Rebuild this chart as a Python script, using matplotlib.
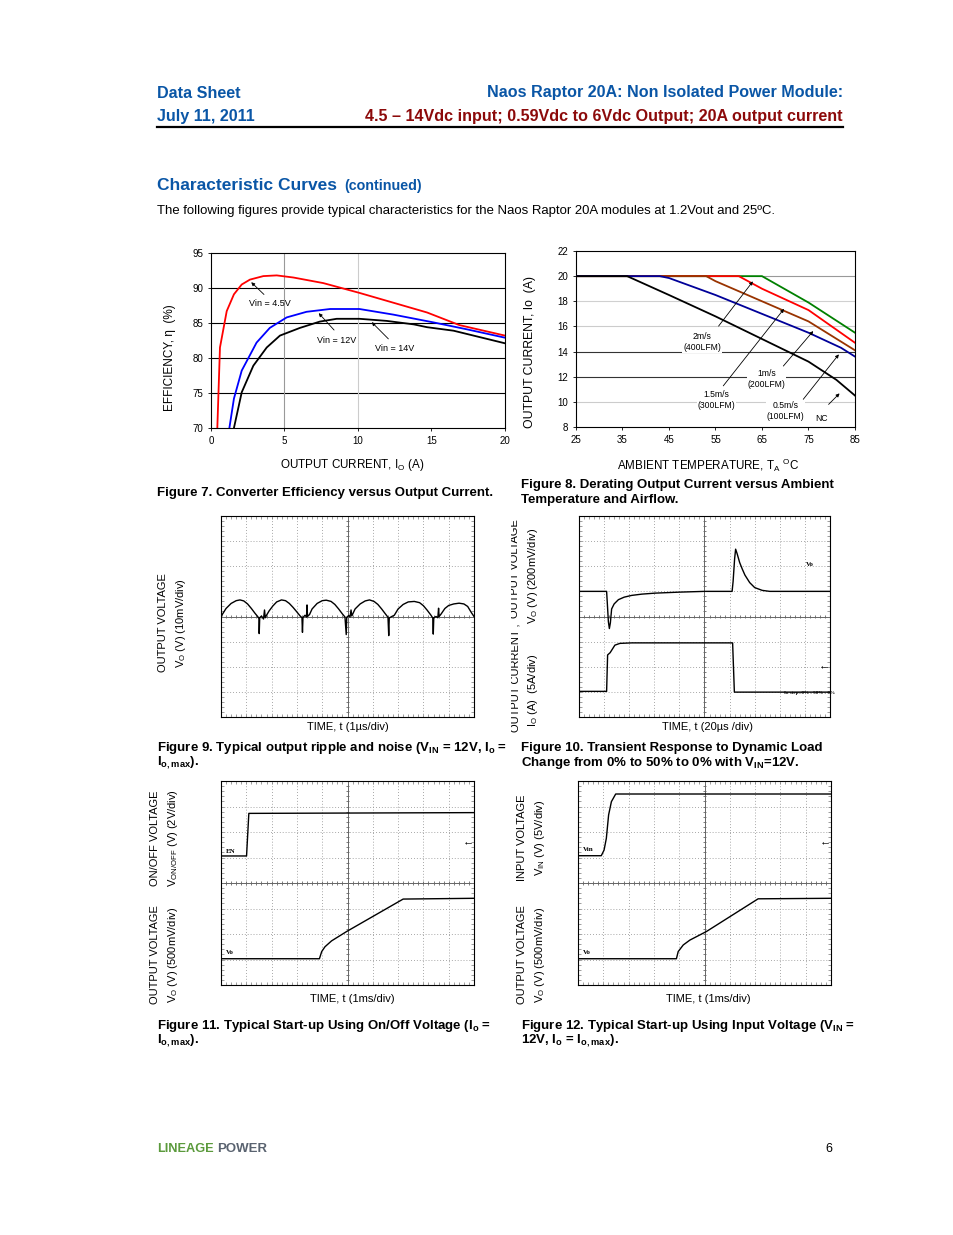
import numpy as np
import matplotlib
matplotlib.use("Agg")
import matplotlib.pyplot as plt
from matplotlib.lines import Line2D
from matplotlib.patches import Rectangle

plt.rcParams['font.family'] = ['Liberation Sans', 'DejaVu Sans']
plt.rcParams['mathtext.default'] = 'regular'

W, H = 954, 1235

# ---- Figure 7: efficiency vs output current ----
eff_io_45 = [0.43, 0.61, 1.07, 1.56, 2.09, 2.65, 3.56, 4.47, 5.6, 7.64, 10.1, 12.4, 14.7, 16.9, 20.0]
eff_45 = [70.0, 81.5, 86.7, 89.1, 90.5, 91.2, 91.7, 91.8, 91.5, 90.7, 89.3, 87.9, 86.5, 84.7, 83.2]
eff_io_12 = [1.25, 1.56, 2.09, 3.1, 4.0, 5.15, 6.5, 8.1, 10.1, 12.4, 15.1, 17.4, 20.0]
eff_12 = [70.0, 74.2, 78.2, 82.2, 84.3, 85.8, 86.6, 87.0, 87.0, 86.2, 85.1, 84.1, 82.9]
eff_io_14 = [1.56, 2.09, 2.88, 3.79, 4.69, 6.05, 7.4, 8.55, 10.1, 11.95, 13.8, 14.7, 16.5, 20.0]
eff_14 = [70.0, 75.1, 78.9, 81.5, 83.2, 84.3, 85.2, 85.6, 85.6, 85.3, 84.8, 84.4, 83.9, 82.1]

# ---- Figure 8: derating ----
ta_2ms = [25, 65, 75, 80, 85]
io_2ms = [20, 20, 17.9, 16.7, 15.5]
ta_15ms = [25, 60, 65, 75, 85]
io_15ms = [20, 20, 19.0, 17.3, 14.7]
ta_1ms = [25, 53, 55, 65, 75, 85]
io_1ms = [20, 20, 19.6, 18.0, 16.4, 14.1]
ta_05ms = [25, 43, 45, 55, 65, 75, 82, 85]
io_05ms = [20, 20, 19.85, 18.5, 17.0, 15.5, 14.3, 13.6]
ta_nc = [25, 36, 45, 55, 65, 75, 81, 85]
io_nc = [20, 20, 18.5, 16.8, 15.0, 13.2, 11.75, 10.5]

# ---- Figure 9: ripple (divisions) ----
rip_t = [0.0, 0.05, 0.2, 0.4, 0.6, 0.75, 0.9, 1.05, 1.2, 1.35, 1.45, 1.5, 1.51, 1.53, 1.6, 1.68, 1.72, 1.75, 1.8,
         1.9, 2.05, 2.2, 2.39, 2.55, 2.7, 2.85, 3.0, 3.12, 3.2, 3.22, 3.24, 3.32, 3.38, 3.4, 3.42, 3.5,
         3.6, 3.8, 4.0, 4.16, 4.35, 4.5, 4.65, 4.8, 4.9, 4.95, 4.97, 5.05, 5.1, 5.14, 5.17,
         5.3, 5.5, 5.7, 5.87, 6.05, 6.2, 6.35, 6.5, 6.6, 6.63, 6.65, 6.75, 6.85,
         7.0, 7.2, 7.4, 7.64, 7.85, 8.0, 8.15, 8.3, 8.37, 8.39, 8.41, 8.5, 8.57, 8.6, 8.62, 8.7,
         8.85, 9.0, 9.2, 9.41, 9.6, 9.75, 9.9, 10.0]
rip_v = [-0.06, 0.08, 0.32, 0.52, 0.63, 0.66, 0.62, 0.5, 0.32, 0.12, 0.0, -0.08, -0.68, -0.05, 0.02, -0.1, 0.26, -0.05, 0.05,
         0.22, 0.42, 0.58, 0.66, 0.63, 0.52, 0.36, 0.18, 0.03, -0.05, -0.63, -0.04, 0.05, -0.02, 0.46, 0.0, 0.08,
         0.3, 0.52, 0.63, 0.65, 0.6, 0.48, 0.3, 0.1, -0.02, -0.72, -0.03, 0.04, -0.02, 0.26, 0.02,
         0.3, 0.5, 0.62, 0.66, 0.6, 0.48, 0.3, 0.1, -0.03, -0.76, -0.06, 0.0, 0.05,
         0.3, 0.48, 0.58, 0.6, 0.55, 0.43, 0.25, 0.05, -0.06, -0.7, -0.05, 0.0, -0.05, 0.33, 0.0, 0.1,
         0.32, 0.44, 0.5, 0.53, 0.5, 0.4, 0.15, 0.0]

# ---- Figure 10: load transient (divisions) ----
tr_vo_t = [0, 1.1, 1.13, 1.17, 1.21, 1.25, 1.3, 1.4, 1.57, 1.8, 2.1, 2.5, 3.03, 4.0, 5.0,
           6.1, 6.14, 6.2, 6.24, 6.3, 6.4, 6.5, 6.61, 6.8, 7.0, 7.3, 7.6, 10]
tr_vo = [5.0, 5.0, 4.5, 3.8, 3.52, 3.75, 4.3, 4.5, 4.67, 4.77, 4.84, 4.89, 4.93, 4.97, 5.0,
         5.0, 5.4, 6.3, 6.68, 6.5, 6.15, 5.9, 5.65, 5.35, 5.15, 5.04, 5.0, 5.0]
tr_io_t = [0, 1.1, 1.14, 1.24, 1.43, 1.63, 2.1, 6.12, 6.19, 10]
tr_io = [1.02, 1.02, 2.47, 2.56, 2.86, 2.93, 2.95, 2.95, 0.99, 0.99]

# ---- Figure 11: start-up with on/off (divisions) ----
en_t = [0, 1.01, 1.1, 10]
en_v = [5.06, 5.06, 6.73, 6.76]
su1_t = [0, 3.89, 3.98, 4.11, 4.37, 4.97, 7.2, 10]
su1_v = [1.03, 1.03, 1.31, 1.5, 1.73, 2.1, 3.37, 3.4]

# ---- Figure 12: start-up with input voltage (divisions) ----
vin_t = [0, 0.92, 1.03, 1.12, 1.21, 1.32, 1.49, 10]
vin_v = [5.07, 5.07, 5.29, 5.75, 6.67, 7.19, 7.49, 7.49]
su2_t = [0, 3.89, 3.96, 4.16, 4.42, 5.08, 7.12, 10]
su2_v = [1.03, 1.03, 1.31, 1.57, 1.76, 2.1, 3.38, 3.4]

BLUE = '#0a56a6'
DRED = '#8c0a0a'

fig = plt.figure(figsize=(W / 100, H / 100), dpi=100)


def ptxt(x, y, s, **kw):
    kw.setdefault('va', 'center')
    return fig.text(x / W, 1 - y / H, s, **kw)


def add_ax(x0, y0, x1, y1):
    return fig.add_axes([x0 / W, 1 - y1 / H, (x1 - x0) / W, (y1 - y0) / H])


def scope(ax):
    ax.set_xlim(0, 10)
    ax.set_ylim(0, 8)
    for i in range(1, 10):
        ax.axvline(i, color='#8a8a8a', lw=0.6, ls=(0, (1, 2.5)), zorder=1)
    for j in range(1, 8):
        ax.axhline(j, color='#8a8a8a', lw=0.6, ls=(0, (1, 2.5)), zorder=1)
    ax.axvline(5, color='#666666', lw=0.7, zorder=1)
    ax.axhline(4, color='#666666', lw=0.7, zorder=1)
    ax.vlines(np.arange(0, 10.01, 0.2), 3.93, 4.07, color='#666666', lw=0.6)
    ax.hlines(np.arange(0, 8.01, 0.2), 4.94, 5.06, color='#666666', lw=0.6)
    ax.set_xticks(np.arange(0, 10.01, 0.2))
    ax.set_yticks(np.arange(0, 8.01, 0.2))
    ax.tick_params(direction='in', length=2, width=0.5, color='#777777',
                   top=True, right=True, labelbottom=False, labelleft=False)
    for s in ax.spines.values():
        s.set_linewidth(0.8)


# ---------------- header ----------------
hd = dict(fontsize=11.6, fontweight='bold')
ptxt(157, 93, 'Data Sheet', color=BLUE, **hd)
ptxt(157, 116, 'July 11, 2011', color=BLUE, **hd)
ptxt(843, 93, 'Naos Raptor 20A: Non Isolated Power Module:', color=BLUE, ha='right', **hd)
ptxt(843, 116, '4.5 \u2013 14Vdc input; 0.59Vdc to 6Vdc Output; 20A output current', color=DRED,
     ha='right', **hd)
fig.add_artist(Line2D([157 / W, 843 / W], [1 - 127 / H] * 2, color='black', lw=1.6))

ptxt(157, 185, 'Characteristic Curves', color=BLUE, fontsize=12.5, fontweight='bold')
ptxt(344, 186, '(continued)', color=BLUE, fontsize=10.3, fontweight='bold')
ptxt(157, 211, 'The following figures provide typical characteristics for the Naos Raptor 20A modules '
     'at 1.2Vout and 25\u00baC.', fontsize=9.45)

# ---------------- Figure 7 ----------------
ax7 = add_ax(211, 253, 505, 428)
ax7.plot(eff_io_45, eff_45, color='#ff0000', lw=1.3)
ax7.plot(eff_io_12, eff_12, color='#0000ff', lw=1.3)
ax7.plot(eff_io_14, eff_14, color='black', lw=1.3)
ax7.set_xlim(0, 20)
ax7.set_ylim(70, 95)
ax7.set_xticks(range(0, 21, 5))
ax7.set_yticks(range(70, 96, 5))
for v in (75, 80, 85, 90):
    ax7.axhline(v, color='black', lw=0.8, zorder=0)
ax7.axvline(5, color='#999999', lw=0.8, zorder=0)
ax7.axvline(10, color='#cccccc', lw=0.8, zorder=0)
ax7.tick_params(labelsize=7, length=2.5, width=0.6, pad=3)
for s in ax7.spines.values():
    s.set_linewidth(0.8)
ap = dict(arrowstyle='-|>', lw=0.6, color='black', mutation_scale=5)
ax7.annotate('', xy=(2.6, 91.1), xytext=(3.74, 88.8), arrowprops=ap)
ax7.annotate('', xy=(7.2, 86.7), xytext=(8.5, 83.7), arrowprops=ap)
ax7.annotate('', xy=(10.8, 85.4), xytext=(12.2, 82.45), arrowprops=ap)
ax7.text(4.0, 87.8, 'Vin = 4.5V', fontsize=6.5, ha='center', va='center')
ax7.text(8.55, 82.45, 'Vin = 12V', fontsize=6.5, ha='center', va='center')
ax7.text(12.5, 81.3, 'Vin = 14V', fontsize=6.5, ha='center', va='center')
ptxt(170, 358, 'EFFICIENCY, \u03b7  (%)', rotation=90, fontsize=8.5, ha='center')
ptxt(352, 465, 'OUTPUT CURRENT, I$_O$ (A)', fontsize=8.4, ha='center')

# ---------------- Figure 8 ----------------
ax8 = add_ax(576, 251, 855, 427)
ax8.plot(ta_2ms, io_2ms, color='#008000', lw=1.3, zorder=3)
ax8.plot(ta_15ms, io_15ms, color='#ff0000', lw=1.3, zorder=3)
ax8.plot(ta_1ms, io_1ms, color='#993300', lw=1.3, zorder=3)
ax8.plot(ta_05ms, io_05ms, color='#000099', lw=1.3, zorder=3)
ax8.plot(ta_nc, io_nc, color='black', lw=1.3, zorder=3)
ax8.set_xlim(25, 85)
ax8.set_ylim(8, 22)
ax8.set_xticks([25, 35, 45, 55, 65, 75, 85])
ax8.set_yticks(range(8, 23, 2))
grid_col = {20: '#999999', 18: '#d0d0d0', 16: '#cccccc', 14: '#333333', 12: '#333333', 10: '#cccccc'}
for v, c in grid_col.items():
    ax8.axhline(v, color=c, lw=0.8, zorder=0)
ax8.tick_params(labelsize=7, length=2.5, width=0.6, pad=3)
for s in ax8.spines.values():
    s.set_linewidth(0.8)
tb = dict(fc='white', ec='none', pad=0.5)
ax8.annotate('', xy=(63.4, 19.76), xytext=(55.3, 15.85), arrowprops=ap)
ax8.annotate('', xy=(70.1, 17.57), xytext=(56.3, 11.1), arrowprops=ap)
ax8.annotate('', xy=(76.4, 15.8), xytext=(69.2, 12.68), arrowprops=ap)
ax8.annotate('', xy=(81.9, 13.95), xytext=(73.5, 10.03), arrowprops=ap)
ax8.annotate('', xy=(82.1, 10.83), xytext=(78.9, 9.64), arrowprops=ap)
lt = dict(fontsize=6.2, ha='center', va='center', linespacing=1.25, bbox=tb)
ax8.text(52.1, 14.75, '2m/s\n(400LFM)', **lt)
ax8.text(55.25, 10.15, '1.5m/s\n(300LFM)', **lt)
ax8.text(66.0, 11.8, '1m/s\n(200LFM)', **lt)
ax8.text(70.0, 9.3, '0.5m/s\n(100LFM)', **lt)
ax8.text(77.7, 8.7, 'NC', fontsize=6.2, ha='center', va='center')
ptxt(530, 352, 'OUTPUT CURRENT, Io  (A)', rotation=90, fontsize=8.8, ha='center')
ptxt(708, 465, 'AMBIENT TEMPERATURE, T$_A$ $^O$C', fontsize=8.4, ha='center')

# ---------------- Figure 9 ----------------
sl = dict(rotation=90, fontsize=8, ha='center')
ax9 = add_ax(221, 516, 474, 717)
scope(ax9)
ax9.plot(rip_t, 4 + np.array(rip_v), color='black', lw=1.0, zorder=3)
ptxt(163, 623, 'OUTPUT VOLTAGE', **sl)
ptxt(181, 623, 'V$_O$ (V) (10mV/div)', **sl)
ptxt(348, 727, 'TIME, t (1\u00b5s/div)', fontsize=8, ha='center')

# ---------------- Figure 10 ----------------
tiny = dict(family=['Liberation Serif', 'DejaVu Serif'], fontweight='bold', va='center')
ax10 = add_ax(579, 516, 830, 717)
scope(ax10)
ax10.plot(tr_vo_t, tr_vo, color='black', lw=1.0, zorder=3)
ax10.plot(tr_io_t, tr_io, color='black', lw=1.0, zorder=3)
ax10.text(9.2, 6.05, 'Vo', fontsize=5, ha='center', **tiny)
ax10.text(8.15, 0.95, 'Io step=0% - 50% - 0%', fontsize=3.6, ha='left', **tiny)
ax10.text(10.0, 2.05, '\u2190', fontsize=8, ha='right', va='center', fontweight='bold')
ptxt(515, 569, 'OUTPUT VOLTAGE', **sl)
ptxt(533, 576, 'V$_O$ (V) (200mV/div)', **sl)
ptxt(515, 678, 'OUTPUT CURRENT ,', **sl)
ptxt(533, 690, 'I$_O$ (A)  (5A/div)', **sl)
fig.add_artist(Rectangle((500 / W, 1 - 735 / H), 10.5 / W, 220 / H, transform=fig.transFigure,
                         fc='white', ec='none', zorder=10))
ptxt(708, 727, 'TIME, t (20\u00b5s /div)', fontsize=8, ha='center')

# ---------------- Figure 11 ----------------
ax11 = add_ax(221, 781, 474, 985)
scope(ax11)
ax11.plot(en_t, en_v, color='black', lw=1.0, zorder=3)
ax11.plot(su1_t, su1_v, color='black', lw=1.0, zorder=3)
ax11.text(0.2, 5.25, 'EN', fontsize=5, **tiny)
ax11.text(0.2, 1.28, 'Vo', fontsize=5, **tiny)
ax11.text(10.0, 5.65, '\u2190', fontsize=8, ha='right', va='center', fontweight='bold')
ptxt(155, 838, 'ON/OFF VOLTAGE', **sl)
ptxt(173, 838, 'V$_{ON/OFF}$ (V) (2V/div)', **sl)
ptxt(155, 955, 'OUTPUT VOLTAGE', **sl)
ptxt(173, 955, 'V$_O$ (V) (500mV/div)', **sl)
ptxt(352, 999, 'TIME, t (1ms/div)', fontsize=8, ha='center')

# ---------------- Figure 12 ----------------
ax12 = add_ax(578, 781, 831, 985)
scope(ax12)
ax12.plot(vin_t, vin_v, color='black', lw=1.0, zorder=3)
ax12.plot(su2_t, su2_v, color='black', lw=1.0, zorder=3)
ax12.text(0.2, 5.3, 'Vin', fontsize=5, **tiny)
ax12.text(0.2, 1.28, 'Vo', fontsize=5, **tiny)
ax12.text(10.0, 5.62, '\u2190', fontsize=8, ha='right', va='center', fontweight='bold')
ptxt(522, 838, 'INPUT VOLTAGE', **sl)
ptxt(540, 838, 'V$_{IN}$ (V) (5V/div)', **sl)
ptxt(522, 955, 'OUTPUT VOLTAGE', **sl)
ptxt(540, 955, 'V$_O$ (V) (500mV/div)', **sl)
ptxt(708, 999, 'TIME, t (1ms/div)', fontsize=8, ha='center')

# ---------------- captions ----------------
cap = dict(fontsize=9.5, fontweight='bold')
ptxt(157, 493, 'Figure 7. Converter Efficiency versus Output Current.', **cap)
ptxt(521, 485, 'Figure 8. Derating Output Current versus Ambient', **cap)
ptxt(521, 500, 'Temperature and Airflow.', **cap)
ptxt(157, 748, 'Figure 9. Typical output ripple and noise (V$_{IN}$ = 12V, I$_o$ =', **cap)
ptxt(157, 763, 'I$_{o,max}$).', **cap)
ptxt(521, 748, 'Figure 10. Transient Response to Dynamic Load', **cap)
ptxt(521, 763, 'Change from 0% to 50% to 0% with V$_{IN}$=12V.', **cap)
ptxt(157, 1026, 'Figure 11. Typical Start-up Using On/Off Voltage (I$_o$ =', **cap)
ptxt(157, 1041, 'I$_{o,max}$).', **cap)
ptxt(521, 1026, 'Figure 12. Typical Start-up Using Input Voltage (V$_{IN}$ =', **cap)
ptxt(521, 1041, '12V, I$_o$ = I$_{o,max}$).', **cap)

# ---------------- footer ----------------
ptxt(157, 1149, 'LINEAGE', color='#5b9a3c', fontsize=9.2, fontweight='bold')
ptxt(217, 1149, 'POWER', color='#5a6370', fontsize=9.5, fontweight='bold')
ptxt(832, 1149, '6', fontsize=9, ha='right')

fig.savefig('out.png', dpi=100)
